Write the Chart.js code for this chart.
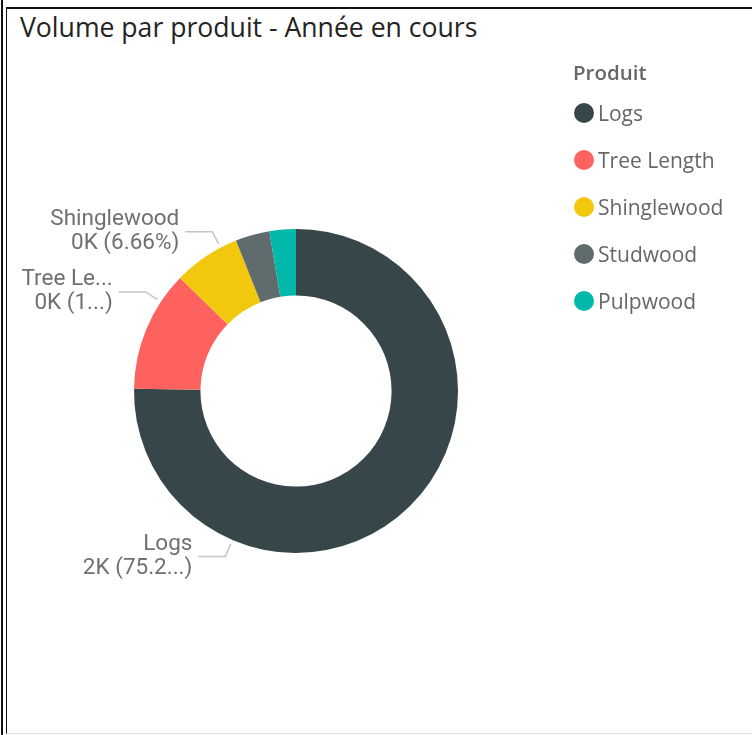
<!DOCTYPE html>
<html><head><meta charset="utf-8">
<script src="https://cdn.jsdelivr.net/npm/chart.js@4"></script>
<style>
html,body{margin:0;padding:0;background:#fff;width:752px;height:735px;overflow:hidden;}
#outerline{position:absolute;left:1px;top:0;width:2px;height:735px;background:#111;}
#frame{position:absolute;left:6px;top:7px;width:746px;height:727px;border-top:2px solid #111;border-left:1px solid #111;border-bottom:1px solid #ddd;box-sizing:border-box;}
#title{position:absolute;left:20px;top:14px;font-family:"Open Sans";font-size:26.6px;line-height:26px;color:#252423;white-space:nowrap;}
#c{position:absolute;left:0;top:0;}
#legend{position:absolute;left:573px;top:58px;font-family:"Open Sans";color:#666;}
#legend .lt{position:absolute;left:0;top:0;font-size:20.5px;font-weight:600;line-height:28px;white-space:nowrap;}
#legend .it{position:absolute;left:1px;height:30px;display:flex;align-items:center;white-space:nowrap;font-size:21px;}
#legend .dot{width:20px;height:20px;border-radius:50%;margin-right:4px;flex:none;}
</style>
</head><body>
<div id="outerline"></div>
<div id="frame"></div>
<div id="title">Volume par produit - Année en cours</div>
<canvas id="c" width="752" height="735"></canvas>
<div id="legend"></div>
<script>
const legendTitle = "Produit";
const categories = ["Logs", "Tree Length", "Shinglewood", "Studwood", "Pulpwood"];
const volumes = [1943, 312, 172, 88, 68];
const colors = ["#374649", "#FD625E", "#F2C80F", "#5F6B6D", "#01B8AA"];
const LABEL_MIN_PCT = 5;

// legend
const lg = document.getElementById('legend');
const t = document.createElement('div'); t.className = 'lt'; t.textContent = legendTitle; lg.appendChild(t);
categories.forEach((c, i) => {
  const it = document.createElement('div'); it.className = 'it';
  it.style.top = (40 + 47 * i) + 'px';
  const d = document.createElement('span'); d.className = 'dot'; d.style.background = colors[i];
  const s = document.createElement('span'); s.textContent = c;
  it.appendChild(d); it.appendChild(s); lg.appendChild(it);
});

function fitText(ctx, txt, maxW) {
  if (ctx.measureText(txt).width <= maxW) return txt;
  let s = txt;
  while (s.length > 1 && ctx.measureText(s + '...').width > maxW) s = s.slice(0, -1);
  return s + '...';
}
function fitValue(ctx, head, pct, maxW) {
  const full = head + ' (' + pct + ')';
  if (ctx.measureText(full).width <= maxW) return full;
  let s = pct;
  while (s.length > 1 && ctx.measureText(head + ' (' + s + '...)').width > maxW) s = s.slice(0, -1);
  return head + ' (' + s + '...)';
}

const labelPlugin = {
  id: 'pbiLabels',
  afterDatasetsDraw(chart) {
    const ctx = chart.ctx;
    const meta = chart.getDatasetMeta(0);
    const total = volumes.reduce((a, b) => a + b, 0);
    ctx.save();
    ctx.font = '22.5px Roboto';
    meta.data.forEach((arc, i) => {
      const pct = volumes[i] / total * 100;
      if (pct < LABEL_MIN_PCT) return;
      const p = arc.getProps(['x', 'y', 'startAngle', 'endAngle', 'outerRadius'], true);
      const a = p.startAngle + 0.75 * (p.endAngle - p.startAngle);
      const cx = Math.cos(a), sy = Math.sin(a);
      const r0 = p.outerRadius + 4;
      const p0 = {x: p.x + cx * r0, y: p.y + sy * r0};
      const p1 = {x: p0.x + cx * 14, y: p0.y + sy * 14};
      const left = cx < 0;
      const p2 = {x: p1.x + (left ? -27 : 27), y: p1.y};
      ctx.strokeStyle = '#c4c4c4';
      ctx.lineWidth = 1.5;
      ctx.beginPath(); ctx.moveTo(p0.x, p0.y); ctx.lineTo(p1.x, p1.y); ctx.lineTo(p2.x, p2.y); ctx.stroke();
      const tx = p2.x + (left ? -6 : 6);
      const avail = left ? tx - 20 : 740 - tx;
      ctx.fillStyle = '#707070';
      ctx.textAlign = left ? 'right' : 'left';
      ctx.textBaseline = 'alphabetic';
      const l1 = fitText(ctx, categories[i], Math.min(avail, 140));
      const head = Math.round(volumes[i] / 1000) + 'K';
      const l2 = fitValue(ctx, head, pct.toFixed(2) + '%', Math.min(110, avail - 10));
      ctx.fillText(l1, tx, p2.y - 7);
      ctx.fillText(l2, tx, p2.y + 17);
    });
    ctx.restore();
  }
};

new Chart(document.getElementById('c'), {
  type: 'doughnut',
  data: {
    labels: categories,
    datasets: [{data: volumes, backgroundColor: colors, borderWidth: 0, hoverOffset: 0}]
  },
  options: {
    responsive: false,
    animation: false,
    cutout: '59%',
    layout: {padding: {left: 134, right: 294, top: 229, bottom: 182}},
    plugins: {legend: {display: false}, tooltip: {enabled: false}, title: {display: false}}
  },
  plugins: [labelPlugin]
});
</script>
</body></html>
